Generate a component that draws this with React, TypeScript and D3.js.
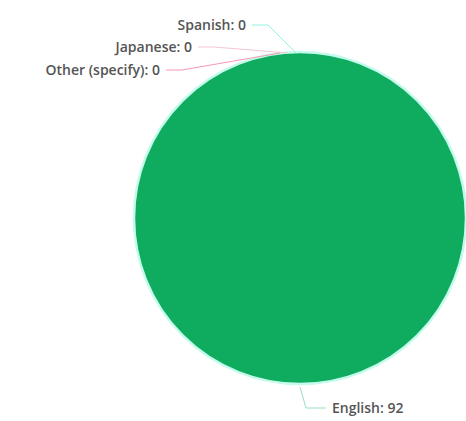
import React from "react";
import * as d3 from "d3";

const categories = ["English", "Spanish", "Japanese", "Other (specify)"];
const values = [92, 0, 0, 0];
const colors = ["#0fab5e", "#8ef3e2", "#f4c6d6", "#f59ab0"];

const W = 466, H = 421;
const cx = 300, cy = 218, R = 166;

export default function App() {
  const pie = d3.pie<number>().sort(null).value(d => d)(values);
  const arc = d3.arc<d3.PieArcDatum<number>>().innerRadius(0).outerRadius(R);
  const zeroLabelY = [25, 47, 70];
  const zeroLabelX = [246, 192, 160];
  let zi = 0;
  return (
    <svg width={W} height={H} style={{ position: "absolute", left: 0, top: 0 }}
      fontFamily="'Open Sans', sans-serif">
      <rect width={W} height={H} fill="#fff" />
      <g transform={`translate(${cx},${cy})`}>
        {pie.map((p, i) => (
          <path key={i} d={arc(p) || ""} fill={colors[i]} />
        ))}
        <circle r={R} fill="none" stroke="#c4fbec" strokeWidth={2.5} />
      </g>
      {pie.map((p, i) => {
        const mid = (p.startAngle + p.endAngle) / 2;
        const label = `${categories[i]}: ${values[i]}`;
        if (values[i] > 0) {
          const ax = cx + Math.sin(mid) * R, ay = cy - Math.cos(mid) * R;
          const ly = 408;
          return (
            <g key={i}>
              <path d={`M${ax},${ay + 3}L${ax + 6},${ly}L${ax + 26},${ly}`} fill="none" stroke="#9adfc0" strokeWidth={1} />
              <text x={ax + 32} y={ly} dy="0.35em" fontSize={14} fontWeight={600} fill="#555">{label}</text>
            </g>
          );
        }
        const k = zi++;
        const ly = zeroLabelY[k], lx = zeroLabelX[k];
        const ax = cx - 4 - k * 8, ay = cy - R + 1;
        return (
          <g key={i}>
            <path d={`M${lx + 6},${ly}L${lx + 22},${ly}L${ax},${ay}`} fill="none" stroke={colors[i]} strokeWidth={1} />
            <text x={lx} y={ly} dy="0.35em" fontSize={14} fontWeight={600} fill="#555" textAnchor="end">{label}</text>
          </g>
        );
      })}
    </svg>
  );
}
